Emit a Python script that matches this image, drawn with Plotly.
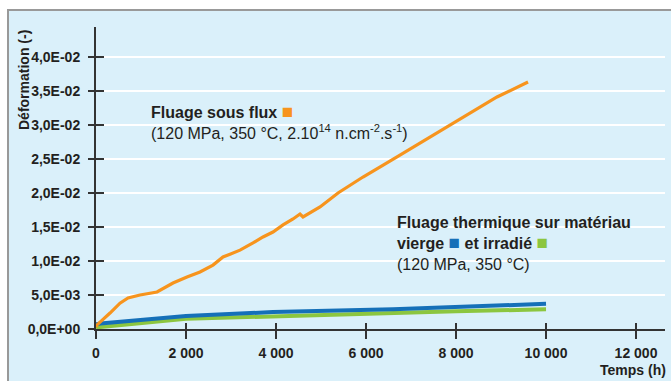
import plotly.graph_objects as go

# Orange: creep under flux
flux_t = [0, 22, 311, 533, 711, 978, 1356, 1711, 2022, 2311, 2600, 2822, 2978, 3200, 3489,
          3711, 3933, 4156, 4378, 4533, 4600, 4978, 5378, 5933, 6689, 7422, 8156, 8911, 9600]
flux_eps = [0.0003, 0.0006, 0.00235, 0.0038, 0.00456, 0.0050, 0.00544, 0.00676, 0.00765,
            0.00838, 0.0094, 0.0106, 0.0110, 0.0116, 0.01265, 0.01353, 0.01426, 0.0153,
            0.01618, 0.01691, 0.01647, 0.01794, 0.0200, 0.02235, 0.0253, 0.02824, 0.03118,
            0.03412, 0.03632]

# Blue: thermal creep, virgin material
vierge_t = [0, 100, 2000, 3933, 6600, 8000, 10000]
vierge_eps = [0.0007, 0.0008, 0.0019, 0.0025, 0.0029, 0.0032, 0.0037]

# Green: thermal creep, irradiated material
irr_t = [0, 100, 2000, 3933, 6600, 8000, 10000]
irr_eps = [0.0002, 0.0003, 0.0015, 0.0019, 0.0024, 0.0026, 0.0029]

y_ticks = [0, 0.005, 0.01, 0.015, 0.02, 0.025, 0.03, 0.035, 0.04]
y_labels = ["0,0E+00", "5,0E-03", "1,0E-02", "1,5E-02", "2,0E-02", "2,5E-02",
            "3,0E-02", "3,5E-02", "4,0E-02"]
x_ticks = [0, 2000, 4000, 6000, 8000, 10000, 12000]
x_labels = ["0", "2 000", "4 000", "6 000", "8 000", "10 000", "12 000"]

ORANGE = "#F7941D"
BLUE = "#1570B8"
GREEN = "#8CC63F"
TXT = "#231F20"
FONT = "Liberation Sans, Arial, sans-serif"

W, H = 671, 381
L, R, T, B = 96, 6, 27, 52
X_RANGE = [0, 12644]
Y_RANGE = [0, 0.04441]

fig = go.Figure()
fig.add_trace(go.Scatter(x=irr_t, y=irr_eps, mode="lines",
                         line=dict(color=GREEN, width=4), showlegend=False))
fig.add_trace(go.Scatter(x=vierge_t, y=vierge_eps, mode="lines",
                         line=dict(color=BLUE, width=4), showlegend=False))
fig.add_trace(go.Scatter(x=flux_t, y=flux_eps, mode="lines",
                         line=dict(color=ORANGE, width=3.2), showlegend=False))
# empty trace to host the inside-tick overlay axes
fig.add_trace(go.Scatter(x=[], y=[], xaxis="x2", yaxis="y2", showlegend=False))

tickfont = dict(family=FONT, size=14, color=TXT, weight="bold")
fig.update_layout(
    width=W, height=H,
    margin=dict(l=L, r=R, t=T, b=B, autoexpand=False),
    paper_bgcolor="white",
    plot_bgcolor="#DCE1E6",
    xaxis=dict(range=X_RANGE, tickvals=x_ticks, ticktext=x_labels, tickfont=tickfont,
               ticks="outside", ticklen=8, tickwidth=1.5, tickcolor="#333333",
               showgrid=False, zeroline=False, showline=True, linecolor="#333333",
               linewidth=2, ticklabelstandoff=2, automargin=False),
    yaxis=dict(range=Y_RANGE, tickvals=y_ticks, ticktext=y_labels, tickfont=tickfont,
               ticks="outside", ticklen=6, tickwidth=1.5, tickcolor="#333333",
               showgrid=True, gridcolor="white", gridwidth=2, zeroline=False,
               showline=True, linecolor="#333333", linewidth=2, ticklabelstandoff=5,
               automargin=False),
    xaxis2=dict(range=X_RANGE, overlaying="x", anchor="y2", tickvals=x_ticks,
                ticks="inside", ticklen=6, tickwidth=1.5, tickcolor="#333333",
                showticklabels=False, showgrid=False, zeroline=False, showline=False),
    yaxis2=dict(range=Y_RANGE, overlaying="y", anchor="x2", tickvals=y_ticks,
                ticks="inside", ticklen=8, tickwidth=1.5, tickcolor="#333333",
                showticklabels=False, showgrid=False, zeroline=False, showline=False),
)

pw, ph = W - L - R, H - T - B
def px(xp):
    return (xp - L) / pw
def py(yp):
    return (H - B - yp) / ph

# light blue frame behind everything
fig.add_shape(type="rect", xref="paper", yref="paper", layer="below",
              x0=px(8), x1=px(W + 10), y0=py(H + 10), y1=py(10),
              fillcolor="#DAF0FA", line=dict(color="#999999", width=2))

fig.add_annotation(xref="paper", yref="paper", x=px(24), y=py(28),
                   xanchor="center", yanchor="top", textangle=-90, showarrow=False,
                   text="<b>Déformation (-)</b>", font=dict(family=FONT, size=14, color=TXT))
fig.add_annotation(xref="paper", yref="paper", x=px(668), y=py(370),
                   xanchor="right", yanchor="middle", showarrow=False,
                   text="<b>Temps (h)</b>", font=dict(family=FONT, size=14, color=TXT))

sq = '<span style="font-size:19px;color:{c}">■</span>'
fig.add_annotation(xref="paper", yref="paper", x=px(149), y=py(121),
                   xanchor="left", yanchor="middle", align="left", showarrow=False,
                   text="<b>Fluage sous flux</b> " + sq.format(c=ORANGE) +
                        "<br>(120 MPa, 350 °C, 2.10<sup>14</sup> n.cm<sup>-2</sup>.s<sup>-1</sup>)",
                   font=dict(family=FONT, size=16, color=TXT))
fig.add_annotation(xref="paper", yref="paper", x=px(395), y=py(243),
                   xanchor="left", yanchor="middle", align="left", showarrow=False,
                   text="<b>Fluage thermique sur matériau</b><br><b>vierge</b> " +
                        sq.format(c=BLUE) + " <b>et irradié</b> " + sq.format(c=GREEN) +
                        "<br>(120 MPa, 350 °C)",
                   font=dict(family=FONT, size=16, color=TXT))

fig.write_html("out.html", config={"displayModeBar": False},
               post_script="document.body.style.margin='0';document.body.style.overflow='hidden';")
